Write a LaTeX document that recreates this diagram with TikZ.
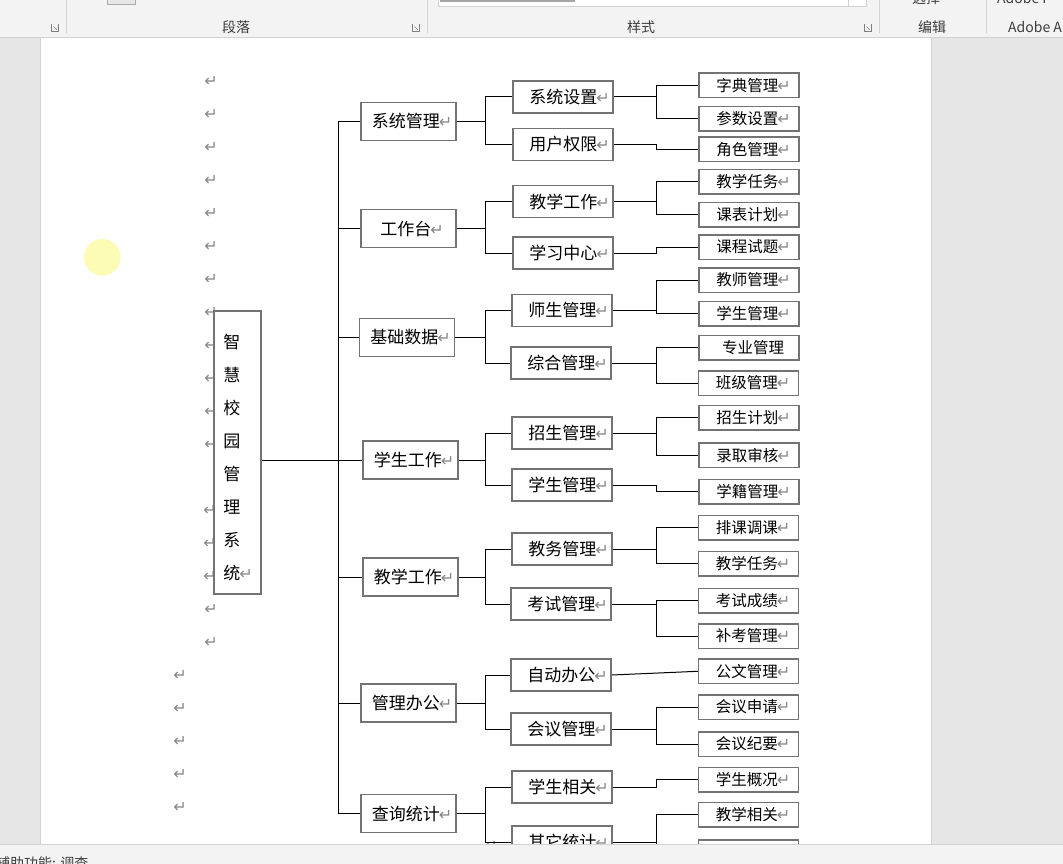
\documentclass[tikz,border=0pt]{standalone}
\usepackage{fontspec}
\newfontfamily\cjk{Noto Sans CJK SC}
\newfontfamily\sym{DejaVu Sans}
\definecolor{uibg}{RGB}{243,243,243}
\definecolor{uiside}{RGB}{230,230,230}
\definecolor{uiline}{RGB}{210,210,210}
\definecolor{uitext}{RGB}{60,60,60}
\definecolor{boxgray}{RGB}{115,115,115}
\definecolor{markgray}{RGB}{135,135,135}
\definecolor{hl}{RGB}{252,252,182}
\newcommand\pmark{{\sym\fontsize{16}{16}\selectfont\kern-1pt\textcolor{markgray}{↵}\kern-1pt}}
\tikzset{
  l2/.style={draw=boxgray, line width=1.5pt, minimum width=95pt, minimum height=38pt, inner sep=0pt,
    font=\cjk\fontsize{17}{17}\selectfont, execute at begin node={\hspace*{6pt}}},
  l3/.style={draw=boxgray, line width=1.5pt, minimum width=100pt, minimum height=32pt, inner sep=0pt,
    font=\cjk\fontsize{17}{17}\selectfont, execute at begin node={\hspace*{12pt}}},
  l4/.style={draw=boxgray, line width=1.5pt, minimum width=100pt, minimum height=24.5pt, inner sep=0pt,
    font=\cjk\fontsize{15.5}{15.5}\selectfont, execute at begin node={\hspace*{8pt}}},
  rootbox/.style={draw=boxgray, line width=1.5pt, minimum width=47pt, minimum height=283pt, inner sep=0pt,
    align=left, font=\cjk\fontsize{17}{33}\selectfont},
  conn/.style={black, line width=1pt},
  pm/.style={inner sep=0pt},
  uilabel/.style={inner sep=0pt, text=uitext, font=\cjk\fontsize{14}{14}\selectfont},
  sep/.style={uiline, line width=1pt}
}
\begin{document}
\begin{tikzpicture}[x=1pt,y=-1pt]
\useasboundingbox (0,0) rectangle (1063,864);
% window background
\fill[uiside] (0,0) rectangle (1063,864);
\fill[white] (40.5,38) rectangle (931,844);
\draw[uiline, line width=1pt] (40.5,38) -- (40.5,844);
\draw[uiline, line width=1pt] (931,38) -- (931,844);
% highlight circle
\fill[hl] (102.3,257.3) circle (18.3);

% coordinates of the vertical connector lines
\coordinate (v1) at (338,0);
\coordinate (v2) at (485,0);
\coordinate (v3) at (656,0);

% paragraph marks in the margin
\foreach \i/\x/\y in {1/211/81,2/211/114,3/211/147,4/211/180,5/211/213,6/211/246,7/211/279,8/211/312,
  9/211/345,10/211/378,11/211/411,12/211/444,13/210/510,14/210/543,15/210/576,16/211/609,17/211/642,
  18/180/675,19/180/708,20/180/741,21/180/774,22/180/807}
  \node[pm] (pm\i) at (\x,\y) {\pmark};
\node[pm] (pmx) at (491,846) {\pmark};

% root
\node[rootbox, fill=white] (root) at (237.5,452.5) {\rule{0pt}{24pt}智\\慧\\校\\园\\管\\理\\系\\统\pmark};

% level 2
\node[l2] (n1) at (408.5,121.5) {系统管理\pmark};
\node[l2] (n2) at (408.5,228.5) {工作台\pmark};
\node[l2] (n3) at (407,337.5) {基础数据\pmark};
\node[l2] (n4) at (410.5,460) {学生工作\pmark};
\node[l2] (n5) at (410.5,577) {教学工作\pmark};
\node[l2] (n6) at (408.5,703) {管理办公\pmark};
\node[l2] (n7) at (408.5,813.5) {查询统计\pmark};

% level 3
\node[l3] (m11) at (563,97) {系统设置\pmark};
\node[l3] (m12) at (563,144.5) {用户权限\pmark};
\node[l3] (m21) at (563,201.5) {教学工作\pmark};
\node[l3] (m22) at (563,253) {学习中心\pmark};
\node[l3] (m31) at (562,310.5) {师生管理\pmark};
\node[l3] (m32) at (561,363) {综合管理\pmark};
\node[l3] (m41) at (562,433) {招生管理\pmark};
\node[l3] (m42) at (562,485) {学生管理\pmark};
\node[l3] (m51) at (562,549) {教务管理\pmark};
\node[l3] (m52) at (561,604) {考试管理\pmark};
\node[l3] (m61) at (561,675) {自动办公\pmark};
\node[l3] (m62) at (561,729) {会议管理\pmark};
\node[l3] (m71) at (562,787) {学生相关\pmark};
\node[l3] (m72) at (562,842) {其它统计\pmark};

% level 4
\node[l4] (d1) at (749,85.5) {字典管理\pmark};
\node[l4] (d2) at (749,119) {参数设置\pmark};
\node[l4] (d3) at (749,149.5) {角色管理\pmark};
\node[l4] (d4) at (749,181.7) {教学任务\pmark};
\node[l4] (d5) at (749,214.7) {课表计划\pmark};
\node[l4] (d6) at (749,247) {课程试题\pmark};
\node[l4] (d7) at (749,280) {教师管理\pmark};
\node[l4] (d8) at (749,313.7) {学生管理\pmark};
\node[l4, execute at begin node={}] (d9) at (749,347.5) {专业管理};
\node[l4] (d10) at (748.5,383) {班级管理\pmark};
\node[l4] (d11) at (749,417.5) {招生计划\pmark};
\node[l4] (d12) at (749,455.3) {录取审核\pmark};
\node[l4] (d13) at (749,491.7) {学籍管理\pmark};
\node[l4] (d14) at (748.5,527.7) {排课调课\pmark};
\node[l4] (d15) at (748.5,563.8) {教学任务\pmark};
\node[l4] (d16) at (748.5,600.8) {考试成绩\pmark};
\node[l4] (d17) at (748.5,636) {补考管理\pmark};
\node[l4] (d18) at (748.5,671.3) {公文管理\pmark};
\node[l4] (d19) at (748.5,707) {会议申请\pmark};
\node[l4] (d20) at (748.5,744) {会议纪要\pmark};
\node[l4] (d21) at (748.5,779.7) {学生概况\pmark};
\node[l4] (d22) at (748.5,814.7) {教学相关\pmark};
\node[l4, execute at begin node={}] (d23) at (748.5,852) {};

% trunk
\draw[conn] (root.east |- n4.west) -- (n4.west -| v1);
\draw[conn] (n1.west -| v1) -- (n7.west -| v1);
\foreach \n in {n1,n2,n3,n4,n5,n6,n7}
  \draw[conn] (\n.west -| v1) -- (\n.west);
% level 2 -> level 3
\foreach \p/\c in {n1/m11,n1/m12,n2/m21,n2/m22,n3/m31,n3/m32,n4/m41,n4/m42,
                   n5/m51,n5/m52,n6/m61,n6/m62,n7/m71,n7/m72}
  \draw[conn] (\p.east) -- (\p.east -| v2) -- (\c.west -| v2) -- (\c.west);
% level 3 -> level 4
\foreach \p/\c in {m11/d1,m11/d2,m12/d3,m21/d4,m21/d5,m22/d6,m31/d7,m31/d8,m32/d9,m32/d10,
                   m41/d11,m41/d12,m42/d13,m51/d14,m51/d15,m52/d16,m52/d17,
                   m62/d19,m62/d20,m71/d21,m72/d22,m72/d23}
  \draw[conn] (\p.east) -- (\p.east -| v3) -- (\c.west -| v3) -- (\c.west);
\draw[conn] (m61.east) -- (d18.west);

% ribbon
\fill[uibg] (0,0) rectangle (1063,37.5);
\draw[uiline, line width=1pt] (0,38) -- (1063,38);
\foreach \x in {66.5,427,879,986}
  \draw[sep] (\x,0) -- (\x,33);
\draw[boxgray!60, fill=uiside] (107,-2) rectangle (135,4);
\draw[uiline, fill=white] (438,-2) rectangle (866,6);
\fill[gray!70] (440,-2) rectangle (575,2);
\draw[uiline] (848,-2) -- (848,6);
\node[uilabel] (t1) at (236,27) {段落};
\node[uilabel] (t2) at (641,27) {样式};
\node[uilabel] (t3) at (932,27) {编辑};
\node[uilabel, anchor=west] (t4) at (1008,27) {Adobe A};
\node[uilabel, anchor=base west] (t5) at (912,4) {选择};
\node[uilabel, anchor=base west] (t6) at (997,4) {Adobe F};
\foreach \x in {55,416,868}{
  \draw[gray, line width=0.6pt] (\x-3.5,24.5) -- (\x-3.5,31.5) -- (\x+3.5,31.5) -- (\x+3.5,24.5);
  \draw[gray, line width=0.6pt] (\x-1.5,26.5) -- (\x+2,30);
}
% status bar
\fill[uibg] (0,844) rectangle (1063,864);
\draw[uiline, line width=1pt] (0,844) -- (1063,844);
\node[uilabel, anchor=base west] (st) at (-4,868) {辅助功能: 调查};
\end{tikzpicture}
\end{document}
